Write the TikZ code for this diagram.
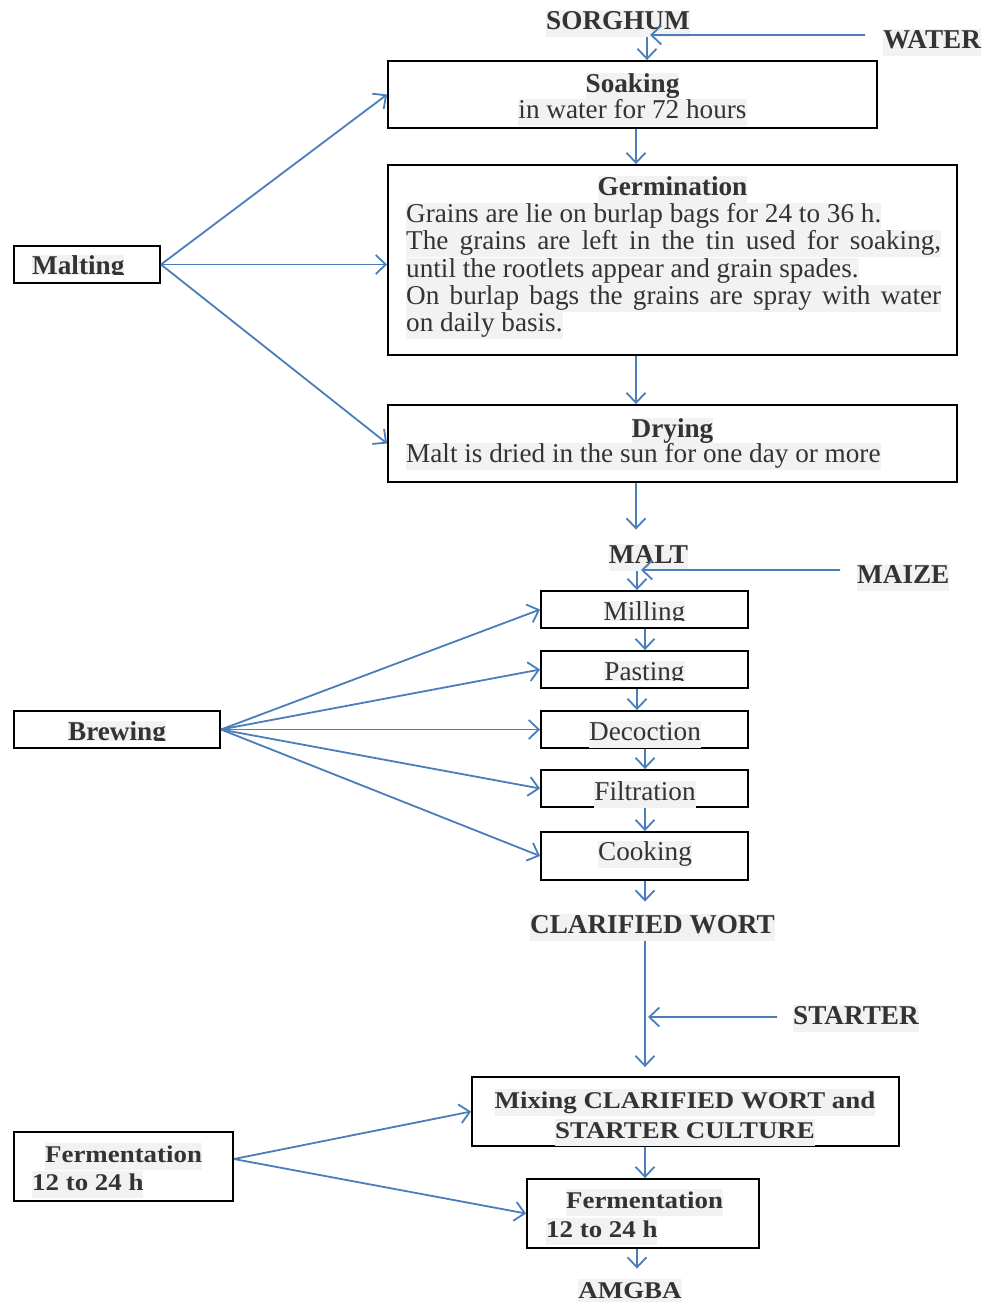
\documentclass[tikz,border=0pt]{standalone}
\usepackage{fontspec}
\setmainfont{Liberation Serif}
\usetikzlibrary{arrows.meta}
\definecolor{txtc}{HTML}{333333}
\definecolor{hlc}{HTML}{F2F2F2}
\definecolor{arrc}{HTML}{4A7EBB}
\newcommand\hl[1]{{\setlength\fboxsep{0pt}\colorbox{hlc}{\strut #1}}}
\newcommand\bt[1]{\scalebox{1.12}[1]{\fontsize{24}{26}\selectfont\bfseries #1}}
\begin{document}
\begin{tikzpicture}[x=1pt,y=-1pt,
  box/.style={draw=black, line width=1.9pt, inner sep=0pt},
  lbl/.style={inner sep=0pt, text=txtc, font=\fontsize{27.2}{27.5}\selectfont},
  arr/.style={draw=arrc, line width=1.8pt, -{Straight Barb[length=10pt,width=19pt]}},
  ]
\useasboundingbox (0,0) rectangle (985,1302);
\fill[white] (0,0) rectangle (985,1302);

% ---------- boxes ----------
\node[box, minimum width=489pt, minimum height=67pt] (soak) at (632.5,94.5) {};
\node[box, minimum width=569pt, minimum height=190pt] (germ) at (672.5,260) {};
\node[box, minimum width=569pt, minimum height=77pt] (dry) at (672.5,443.5) {};
\node[box, minimum width=146pt, minimum height=37pt] (malting) at (87,264.5) {};

\node[box, minimum width=207pt, minimum height=37pt] (mill) at (644.5,609.5) {};
\node[box, minimum width=207pt, minimum height=37pt] (past) at (644.5,669.5) {};
\node[box, minimum width=207pt, minimum height=37pt] (deco) at (644.5,729.5) {};
\node[box, minimum width=207pt, minimum height=37pt] (filt) at (644.5,788.5) {};
\node[box, minimum width=207pt, minimum height=48pt] (cook) at (644.5,856) {};
\node[box, minimum width=206pt, minimum height=37pt] (brew) at (117,729.5) {};

\node[box, minimum width=427pt, minimum height=69pt] (mix) at (685.5,1111.5) {};
\node[box, minimum width=232pt, minimum height=69pt] (fermR) at (643,1213.5) {};
\node[box, minimum width=219pt, minimum height=69pt] (fermL) at (123.5,1166.5) {};

% ---------- texts ----------
\node[lbl, anchor=base] (sorghum) at (618,29) {\hl{\textbf{SORGHUM}}};
\node[lbl, anchor=base west] (water) at (883,48) {\hl{\textbf{WATER}}};
\node[lbl, anchor=base] (soakT) at (632.5,92) {\hl{\textbf{Soaking}}};
\node[lbl, anchor=base] (soakL) at (632.5,118) {\hl{in water for 72 hours}};

\node[lbl, anchor=base] (germT) at (672.5,195) {\hl{\textbf{Germination}}};
\node[lbl, anchor=base west] (g1) at (406,222) {\hl{Grains are lie on burlap bags for 24 to 36 h.}};
\node[lbl, anchor=base west] (g2) at (406,249) {\hl{\makebox[535pt][s]{The grains are left in the tin used for soaking,}}};
\node[lbl, anchor=base west] (g3) at (406,277) {\hl{until the rootlets appear and grain spades.}};
\node[lbl, anchor=base west] (g4) at (406,304) {\hl{\makebox[535pt][s]{On burlap bags the grains are spray with water}}};
\node[lbl, anchor=base west] (g5) at (406,331) {\hl{on daily basis.}};

\node[lbl, anchor=base] (dryT) at (672.5,437) {\hl{\textbf{Drying}}};
\node[lbl, anchor=base west] (dryL) at (406,462) {\hl{Malt is dried in the sun for one day or more}};

\begin{scope}
\clip (0,0) rectangle (300,274.5);
\node[lbl, anchor=base west] (maltingT) at (32,274) {\hl{\textbf{Malting}}};
\end{scope}

\node[lbl, anchor=base] (malt) at (648.5,563) {\hl{\textbf{MALT}}};
\node[lbl, anchor=base west] (maize) at (857,583) {\hl{\textbf{MAIZE}}};

\begin{scope}
\clip (500,590) rectangle (760,620.8);
\node[lbl, anchor=base] (millT) at (644.5,620.5) {\hl{Milling}};
\end{scope}
\begin{scope}
\clip (500,650) rectangle (760,680.3);
\node[lbl, anchor=base] (pastT) at (644.5,680) {\hl{Pasting}};
\end{scope}
\node[lbl, anchor=base] (decoT) at (645,740) {\hl{Decoction}};
\node[lbl, anchor=base] (filtT) at (645,800) {\hl{Filtration}};
\node[lbl, anchor=base] (cookT) at (645,860) {\hl{Cooking}};
\begin{scope}
\clip (0,700) rectangle (300,740.3);
\node[lbl, anchor=base] (brewT) at (117,740) {\hl{\textbf{Brewing}}};
\end{scope}

\node[lbl, anchor=base] (wort) at (652.5,933) {\hl{\textbf{CLARIFIED WORT}}};
\node[lbl, anchor=base west] (starter) at (793,1024) {\hl{\textbf{STARTER}}};

\node[lbl, anchor=base] (mix1) at (685,1108) {\hl{\bt{Mixing CLARIFIED WORT and}}};
\node[lbl, anchor=base] (mix2) at (685,1138) {\hl{\bt{STARTER CULTURE}}};
\node[lbl, anchor=base west] (fR1) at (566,1208) {\hl{\bt{Fermentation}}};
\node[lbl, anchor=base west] (fR2) at (546,1237) {\hl{\bt{12 to 24 h}}};
\node[lbl, anchor=base west] (fL1) at (45,1162) {\hl{\bt{Fermentation}}};
\node[lbl, anchor=base west] (fL2) at (32,1190) {\hl{\bt{12 to 24 h}}};
\node[lbl, anchor=base] (amgba) at (630,1298) {\hl{\bt{AMGBA}}};

% ---------- junction coordinates ----------
\coordinate (wj) at (650,35);
\coordinate (mj) at (641,570);
\coordinate (sj) at (648,1017);

% ---------- connectors ----------
\draw[arr] ([xshift=-18pt,yshift=7.5pt]water.west) -- (wj);
\draw[arr] (647,0 |- sorghum.south) -- (647,0 |- soak.north);
\draw[arr] (636,0 |- soak.south) -- (636,0 |- germ.north);
\draw[arr] (636,0 |- germ.south) -- (636,0 |- dry.north);
\draw[arr, shorten >=14pt] (636,0 |- dry.south) -- (636,0 |- malt.north);

\draw[arr] (malting.east) -- (soak.west);
\draw[arr] (malting.east) -- (germ.west |- malting.east);
\draw[arr] (malting.east) -- (dry.west);

\draw[arr] ([xshift=-17pt,yshift=7.5pt]maize.west) -- (mj);
\draw[arr] (637,0 |- malt.south) -- (637,0 |- mill.north);
\draw[arr] (645,0 |- mill.south) -- (645,0 |- past.north);
\draw[arr] (637,0 |- past.south) -- (637,0 |- deco.north);
\draw[arr] (645,0 |- deco.south) -- (645,0 |- filt.north);
\draw[arr] (645,0 |- filt.south) -- (645,0 |- cook.north);
\draw[arr, shorten >=12pt] (645,0 |- cook.south) -- (645,0 |- wort.north);

\draw[arr] (brew.east) -- (mill.west);
\draw[arr] (brew.east) -- (past.west);
\draw[arr] (brew.east) -- (deco.west);
\draw[arr] (brew.east) -- (filt.west);
\draw[arr] (brew.east) -- (cook.west);

\draw[arr, shorten >=9pt] (645,0 |- wort.south) -- (645,0 |- mix.north);
\draw[arr] ([xshift=-16pt,yshift=1.5pt]starter.west) -- (sj);
\draw[arr] (645,0 |- mix.south) -- (645,0 |- fermR.north);
\draw[arr, shorten >=10pt] (637,0 |- fermR.south) -- (637,0 |- amgba.north);

\draw[arr] ([yshift=7.5pt]fermL.east) -- (mix.west);
\draw[arr] ([yshift=7.5pt]fermL.east) -- (fermR.west);
\end{tikzpicture}
\end{document}
